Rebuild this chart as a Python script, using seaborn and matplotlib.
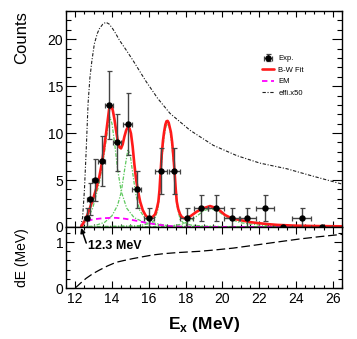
import numpy as np
import pandas as pd
import matplotlib
matplotlib.use("Agg")
import matplotlib.pyplot as plt
from matplotlib.ticker import MultipleLocator
import seaborn as sns

# ---------------- data ----------------
exp_x = [12.62, 12.81, 13.09, 13.45, 13.83, 14.26, 14.85, 15.34, 16.0, 16.66,
         17.38, 18.06, 18.84, 19.65, 20.5, 21.36, 22.32, 23.28, 24.3, 25.4]
exp_y = [1, 3, 5, 7, 13, 9, 11, 4, 1, 6, 6, 1, 2, 2, 1, 1, 2, 0, 1, 0]
exp_xerr = [0.15, 0.15, 0.16, 0.19, 0.2, 0.23, 0.24, 0.25, 0.27, 0.31,
            0.3, 0.36, 0.4, 0.42, 0.44, 0.46, 0.5, 0.52, 0.54, 0.57]
exp_yerr = [1.0, 1.73, 2.24, 2.65, 3.61, 3.0, 3.32, 2.0, 1.0, 2.45,
            2.45, 1.0, 1.41, 1.41, 1.0, 1.0, 1.41, 0.0, 1.0, 0.0]

fit_x = [12.32, 12.45, 12.59, 12.77, 12.95, 13.13, 13.31, 13.45, 13.58, 13.68,
         13.77, 13.84, 13.9, 13.97, 14.04, 14.13, 14.22, 14.31, 14.4, 14.49,
         14.58, 14.67, 14.77, 14.87, 14.95, 15.03, 15.12, 15.21, 15.3, 15.4,
         15.53, 15.67, 15.82, 15.97, 16.12, 16.25, 16.34, 16.43, 16.52, 16.58,
         16.63, 16.7, 16.77, 16.83, 16.9, 16.96, 17.02, 17.08, 17.14, 17.2,
         17.27, 17.33, 17.4, 17.46, 17.52, 17.6, 17.7, 17.8, 17.92, 18.06,
         18.3, 18.6, 18.96, 19.33, 19.69, 19.92, 20.14, 20.5, 20.96, 21.5,
         22.0, 22.5, 23.0, 24.0, 25.0, 26.5]
fit_y = [0.0, 0.45, 0.93, 1.85, 2.87, 4.0, 5.35, 6.8, 8.54, 10.0,
         11.4, 12.5, 12.87, 12.85, 12.45, 11.5, 10.3, 9.2, 8.5, 8.37,
         8.8, 9.6, 10.3, 10.67, 10.5, 9.96, 8.6, 6.77, 5.2, 3.94,
         2.7, 1.8, 1.25, 0.95, 0.98, 1.15, 1.35, 1.9, 2.7, 3.9,
         5.5, 7.66, 9.2, 10.1, 10.9, 11.25, 11.3, 11.1, 10.6, 10.1,
         9.0, 7.66, 5.9, 4.1, 2.7, 1.9, 1.35, 1.05, 0.93, 0.92,
         1.2, 1.63, 1.99, 2.23, 1.99, 1.65, 1.28, 0.92, 0.74, 0.52,
         0.4, 0.3, 0.22, 0.14, 0.1, 0.07]

em_x = [12.3, 12.44, 12.7, 12.98, 13.5, 14.0, 14.25, 14.7, 15.12, 15.6,
        16.03, 16.5, 17.0, 17.7, 18.5, 26.5]
em_y = [0.0, 0.39, 0.65, 0.82, 0.93, 0.98, 0.97, 0.88, 0.74, 0.55,
        0.39, 0.25, 0.12, 0.04, 0.01, 0.0]

effi_x = [12.3, 12.4, 12.5, 12.6, 12.7, 12.8, 12.9, 13.04, 13.2, 13.31,
          13.5, 13.67, 13.85, 14.04, 14.2, 14.4, 14.75, 15.12, 15.5, 15.85,
          16.48, 17.15, 18.24, 19.5, 20.78, 22.04, 23.5, 24.76, 26.5]
effi_y = [0.0, 1.0, 3.9, 8.3, 13.2, 15.9, 17.6, 19.5, 20.6, 21.1,
          21.6, 21.8, 21.6, 21.1, 20.6, 19.9, 18.9, 17.8, 16.6, 15.5,
          13.7, 12.1, 10.3, 8.7, 7.6, 6.8, 6.2, 5.5, 4.57]

g1_x = [12.3, 12.6, 12.95, 13.3, 13.58, 13.77, 13.88, 14.0, 14.15, 14.3,
        14.5, 14.8, 15.2, 15.8, 16.5, 18.0, 26.5]
g1_y = [0.0, 0.6, 2.0, 4.6, 7.8, 10.5, 11.7, 11.0, 8.8, 6.2,
        3.8, 2.0, 1.0, 0.45, 0.2, 0.05, 0.0]
g2_x = [12.3, 13.0, 13.6, 14.0, 14.3, 14.5, 14.7, 14.87, 15.0, 15.15,
        15.3, 15.5, 15.8, 16.2, 17.0, 18.0, 26.5]
g2_y = [0.0, 0.1, 0.5, 1.2, 2.3, 3.7, 6.3, 8.3, 7.5, 5.4,
        3.4, 1.8, 0.9, 0.45, 0.15, 0.05, 0.0]
g3_x = [12.3, 15.5, 16.0, 16.3, 16.5, 16.63, 16.7, 16.83, 16.93, 17.02,
        17.11, 17.2, 17.33, 17.4, 17.52, 17.7, 17.9, 18.3, 19.0, 20.0, 26.5]
g3_y = [0.0, 0.15, 0.35, 0.7, 1.9, 4.7, 7.0, 9.6, 10.7, 11.0,
        10.7, 9.6, 7.2, 5.6, 2.4, 0.8, 0.4, 0.2, 0.1, 0.05, 0.0]
g4_x = [12.3, 17.0, 17.8, 18.3, 18.7, 19.0, 19.33, 19.7, 20.0, 20.4,
        21.0, 22.0, 23.5, 26.5]
g4_y = [0.0, 0.05, 0.3, 0.7, 1.3, 1.75, 1.95, 1.75, 1.35, 0.85,
        0.45, 0.2, 0.07, 0.0]

de_x = [12.0, 12.3, 12.59, 12.95, 13.31, 13.75, 14.22, 14.65, 15.12, 15.65,
        16.21, 16.85, 17.48, 18.1, 18.76, 19.6, 20.59, 21.5, 22.4, 23.3,
        24.22, 25.3, 26.5]
de_y = [0.0, 0.11, 0.21, 0.31, 0.39, 0.48, 0.56, 0.6, 0.64, 0.68,
        0.72, 0.75, 0.77, 0.785, 0.8, 0.83, 0.87, 0.92, 0.97, 1.02,
        1.07, 1.12, 1.17]

threshold_x = 12.3
threshold_label = "12.3 MeV"

# ---------------- style ----------------
sns.set_theme(style="ticks")
plt.rcParams["font.family"] = ["Liberation Sans", "DejaVu Sans"]
plt.rcParams["mathtext.fontset"] = "custom"
plt.rcParams["mathtext.rm"] = "Liberation Sans"
plt.rcParams["mathtext.bf"] = "Liberation Sans:bold"
plt.rcParams["axes.linewidth"] = 1.0
plt.rcParams["axes.edgecolor"] = "black"
plt.rcParams["text.color"] = "black"
plt.rcParams["axes.labelcolor"] = "black"
plt.rcParams["xtick.color"] = "black"
plt.rcParams["ytick.color"] = "black"

fig = plt.figure(figsize=(3.57, 3.39), dpi=100)
ax1 = fig.add_axes([0.1849, 0.3304, 0.7731, 0.6372])
ax2 = fig.add_axes([0.1849, 0.1504, 0.7731, 0.1800])

green = "#5fc95f"
# efficiency curve
sns.lineplot(x=effi_x, y=effi_y, ax=ax1, color="#202020", lw=0.8,
             linestyle=(0, (3, 1.5, 1, 1.5)), estimator=None, label="effi.x50")
# individual components
for gx, gy in [(g1_x, g1_y), (g2_x, g2_y), (g3_x, g3_y), (g4_x, g4_y)]:
    sns.lineplot(x=gx, y=gy, ax=ax1, color=green, lw=0.9,
                 linestyle=(0, (3, 1.2, 1, 1.2)), estimator=None)
# EM
sns.lineplot(x=em_x, y=em_y, ax=ax1, color="#ff00ff", lw=1.3,
             linestyle=(0, (3, 2)), estimator=None, label="EM")
# B-W fit
sns.lineplot(x=fit_x, y=fit_y, ax=ax1, color="#ff1a1a", lw=1.9,
             estimator=None, label="B-W Fit")
# data
eb = ax1.errorbar(exp_x, exp_y, xerr=exp_xerr, yerr=exp_yerr, fmt="o",
                  color="black", ms=3.6, ecolor="#444444", elinewidth=1.0,
                  capsize=1.8, capthick=0.9, label="Exp.", zorder=5)

ax1.set_xlim(11.5, 26.5)
ax1.set_ylim(0, 23)
ax1.xaxis.set_major_locator(MultipleLocator(2))
ax1.xaxis.set_minor_locator(MultipleLocator(0.5))
ax1.yaxis.set_major_locator(MultipleLocator(5))
ax1.yaxis.set_minor_locator(MultipleLocator(1))
ax1.tick_params(which="both", direction="in", top=True, right=True,
                labelbottom=False, width=0.8, colors="black", labelsize=10)
ax1.tick_params(axis="y", which="major", length=7, pad=2)
ax1.tick_params(axis="y", which="minor", length=3.6)
ax1.tick_params(axis="x", which="major", length=4)
ax1.tick_params(axis="x", which="minor", length=2.5)
ax1.set_xlabel("")
ax1.set_ylabel("Counts", fontsize=12, loc="top", color="black")
ax1.yaxis.set_label_coords(-0.135, 1.0)

h, l = ax1.get_legend_handles_labels()
order = ["Exp.", "B-W Fit", "EM", "effi.x50"]
hd = dict(zip(l, h))
ax1.legend([hd[k] for k in order], order, loc="upper left",
           bbox_to_anchor=(0.733, 0.838), bbox_transform=fig.transFigure,
           frameon=False, fontsize=5.5, handlelength=1.6, handletextpad=0.6,
           labelspacing=0.55, borderpad=0, borderaxespad=0)

# resolution panel
sns.lineplot(x=de_x, y=de_y, ax=ax2, color="black", lw=0.9,
             linestyle=(0, (7, 3)), estimator=None)
ax2.set_xlim(11.5, 26.5)
ax2.set_ylim(0, 1.33)
ax2.xaxis.set_major_locator(MultipleLocator(2))
ax2.xaxis.set_minor_locator(MultipleLocator(0.5))
ax2.yaxis.set_major_locator(MultipleLocator(1))
ax2.yaxis.set_minor_locator(MultipleLocator(0.2))
ax2.tick_params(which="both", direction="in", top=True, right=True,
                width=0.8, colors="black", labelsize=10)
ax2.tick_params(axis="x", which="major", length=5, pad=3)
ax2.tick_params(axis="x", which="minor", length=2.5)
ax2.tick_params(axis="y", which="major", length=6, pad=2)
ax2.tick_params(axis="y", which="minor", length=3)
ax2.set_ylabel("dE (MeV)", fontsize=10, color="black")
ax2.yaxis.set_label_coords(-0.135, 0.5)
ax2.set_xlabel(r"E$_{\mathbf{x}}$ (MeV)", fontsize=12.5, fontweight="bold",
               labelpad=6, color="black")

ax2.annotate("", xy=(threshold_x + 0.02, 1.31), xytext=(12.6, 0.98),
             arrowprops=dict(arrowstyle="-|>", color="black", lw=1.1,
                             mutation_scale=7, shrinkA=0, shrinkB=0))
ax2.text(12.7, 0.91, threshold_label, fontsize=9, fontweight="bold",
         ha="left", va="center", color="black")

fig.savefig("out.png", dpi=100)
